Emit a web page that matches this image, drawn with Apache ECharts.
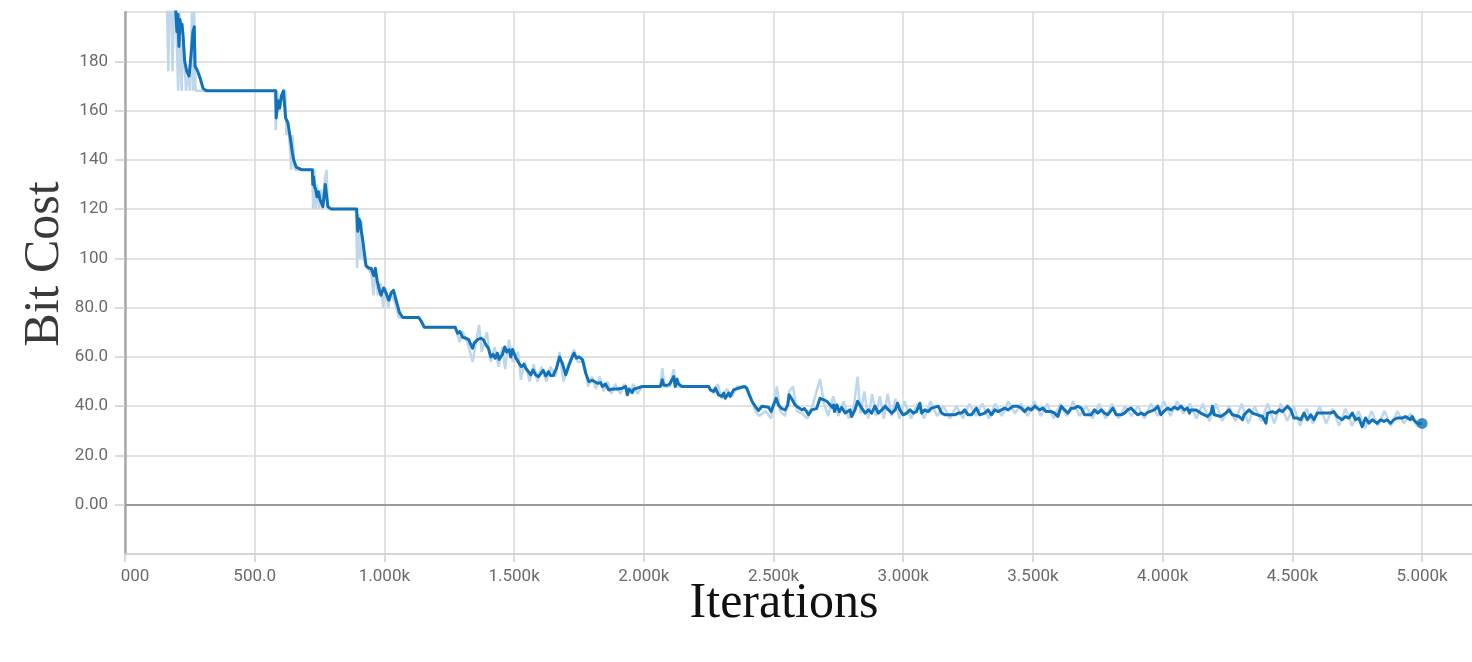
<!DOCTYPE html>
<html><head><meta charset="utf-8">
<script src="https://cdn.jsdelivr.net/npm/echarts@6/dist/echarts.min.js"></script>
<style>html,body{margin:0;padding:0;background:#fff}#c{width:1472px;height:662px}</style>
</head><body><div id="c"></div><script>
// Smoothed Bit Cost curve: [iteration, bit cost]
const smoothed = [
[185,212],[196,200],[200,192],[204,199],[208,186],[212,197],[216,193],[220,195],[224,190],[230,180],[238,176],[247,174],[255,183],[262,192],[267,194],[270,178],[280,176],[290,173],[301,169],[314,168],
[581,168],[583,157],[590,164],[596,161],[603,166],[611,168],[619,157],[628,155],[637,149],[641,146],[645,143],[650,140],[660,137],[680,136],[722,136],[724,130],[727,133],[731,129],[735,128],[740,125],[746,127],[751,124],[757,124],[763,121],[772,130],[782,121],[795,120],
[893,120],[897,111],[902,116],[906,115],[911,111],[917,107],[923,102],[929,97],[940,96],[949,96],[955,94],[959,93],[965,96],[972,91],[981,87],[987,85],[997,88],[1006,86],[1017,83],[1026,86],[1035,87],[1045,83],[1058,78],[1071,76],[1132,76],[1142,74.5],[1154,72],
[1273,72],[1282,69.6],[1291,70.3],[1301,68],[1314,67.6],[1325,67],[1333,65],[1340,63.5],[1346,65.6],[1359,67],[1372,67.6],[1381,67],[1391,65],[1401,63.5],[1410,60],[1419,61],[1427,59.5],[1435,61.5],[1442,59],[1455,61],[1464,64],[1471,62],[1481,63],[1487,60],[1494,63],[1507,59.5],[1519,57.4],[1528,56],[1538,57],[1545,55.4],[1555,54],[1564,52.7],[1573,54.7],[1583,52.7],[1594,52],[1604,53.4],[1612,54.5],[1622,52.3],[1633,54],[1640,52.5],[1651,52.5],[1663,55.4],[1675,60],[1686,57.4],[1699,52.7],[1712,56.8],[1724,60],[1731,61.5],[1740,59.5],[1750,60],[1763,59],[1776,53.4],[1788,50],[1801,50.5],[1808,51],[1821,49.3],[1834,49.5],[1840,48],[1852,49],[1865,46.6],[1872,46],[1880,47],[1900,47],[1917,47.3],[1930,48],[1936,44.6],[1943,47],[1955,45.5],[1962,47],[1974,47.3],[1994,48],
[2064,48],[2071,50.7],[2077,48.5],[2090,48.5],[2100,49],[2115,52],[2121,48],[2128,51],[2134,49],[2147,48],[2250,48],[2256,46.6],[2269,46],[2276,47.3],[2288,44.6],[2301,44],[2308,45.3],[2314,43.2],[2327,45.3],[2333,44],[2346,46.6],[2365,47.3],[2388,48],[2397,47.3],[2404,45.3],[2417,42],[2429,40],[2442,38.2],[2455,40],[2481,39.6],[2491,37.8],[2500,40.5],[2510,43.2],[2519,40.5],[2532,39],[2545,38.5],[2555,40.5],[2560,44.6],[2570,43],[2576,43.5],[2583,40.5],[2590,40],[2609,38.5],[2619,39],[2628,37.8],[2635,36.5],[2647,38.5],[2666,39],[2679,43.2],[2686,44],[2696,42.5],[2705,42],[2714,41],[2727,39.5],[2731,40.5],[2735,37.8],[2744,40.5],[2753,37.8],[2763,39.5],[2776,37.2],[2795,38.5],[2801,35.8],[2814,38.5],[2824,42],[2833,40.5],[2840,39.2],[2853,37.2],[2866,38.5],[2878,37.2],[2891,40],[2904,37.2],[2917,38.5],[2930,40],[2943,38.5],[2956,37.2],[2969,38.5],[2978,41.2],[2987,38.5],
[3000,36.5],[3013,37.2],[3026,38.5],[3039,37.2],[3051,37.8],[3064,41.2],[3071,37.2],[3083,38.5],[3096,37.8],[3109,39.2],[3135,40],[3148,37.2],[3160,36.5],[3199,36.5],[3212,37.2],[3225,37.2],[3237,38.5],[3250,36.5],[3263,36.5],[3282,39.2],[3295,36.5],[3314,37.2],[3327,38.5],[3340,36.5],[3353,38.5],[3366,37.8],[3391,39.2],[3404,38.5],[3423,40],[3442,40],[3455,39.2],[3468,37.8],[3481,39.2],[3494,38.5],[3507,40],[3526,38.5],[3538,39.2],[3551,37.8],[3571,37.8],[3583,37.2],[3596,35.8],[3609,40],[3622,38.5],[3635,37.2],[3648,39.2],[3660,39.2],[3673,40],[3686,39.2],[3699,36.5],[3724,36.5],[3737,38.5],[3750,37.2],[3763,38.5],[3776,37.2],[3788,36.5],[3808,39.2],[3821,36.5],[3840,36.5],[3853,37.2],[3865,38.5],[3878,39.2],[3891,37.8],[3904,36.5],[3917,37.2],[3930,36.5],[3942,37.5],[3955,38],[3968,38.5],[3981,40],[3993,36.5],
[4006,38],[4019,39.2],[4032,38.5],[4045,39.6],[4058,38.8],[4071,40],[4083,38.5],[4096,39.2],[4103,37.2],[4109,38.5],[4128,38.5],[4147,37.2],[4173,35.8],[4186,37.2],[4192,40],[4199,36.5],[4224,35.8],[4244,37.2],[4256,38.5],[4269,36.5],[4295,35.8],[4308,34.5],[4314,36.5],[4333,38.5],[4346,37.2],[4365,36.5],[4385,35.8],[4398,33.1],[4404,37.2],[4423,37.8],[4436,37.2],[4449,38.5],[4462,37.8],[4481,40],[4494,38.5],[4506,35.2],[4519,35.2],[4532,34.5],[4545,37.2],[4558,34.5],[4571,36.5],[4583,34.5],[4596,37.2],[4609,37.2],[4628,37.2],[4647,37.2],[4660,37.8],[4673,35.8],[4692,34.5],[4705,35.8],[4718,35.2],[4731,37.2],[4744,34.5],[4756,35.2],[4769,31.7],[4782,35.2],[4795,33.1],[4808,34.5],[4827,33.1],[4840,34.5],[4853,33.8],[4865,34.5],[4878,33.1],[4891,34.5],[4904,35.2],[4923,35.2],[4936,35.8],[4955,34.5],[4962,35.8],[4968,34.5],[4981,33.1],[5000,33]
];
// Raw (unsmoothed) Bit Cost: [iteration, bit cost]
const raw = [
[160,212],[167,176],[172,210],[178,205],[183,176],[190,205],[196,200],[205,168],[210,200],[218,168],[225,190],[235,168],[245,175],[250,168],[258,200],[262,168],[267,200],[272,168],[290,168],
[578,168],[581,152],[586,168],[596,160],[610,168],[618,168],[622,150],[628,155],[636,145],[641,136],[645,150],[655,136],[680,136],[722,136],[725,120],[730,136],[735,120],[740,130],[748,120],[755,128],[762,120],[768,130],[777,136],[782,120],[795,120],
[890,120],[895,96],[900,118],[906,100],[912,115],[918,100],[925,100],[935,96],[950,94],[958,85],[965,96],[975,85],[985,90],[995,80],[1005,88],[1015,80],[1025,86],[1040,82],[1055,76],[1070,76],[1132,76],[1154,72],[1273,72],
[1290,66],[1300,70.5],[1320,66],[1340,58],[1365,73],[1375,62],[1395,70],[1410,58],[1425,64],[1440,56],[1455,64],[1465,55],[1480,67],[1495,58],[1515,62],[1526,50.7],[1540,58],[1560,50],[1575,57],[1590,50],[1605,56],[1625,50],[1640,56],[1660,52],[1675,62],[1690,50],[1710,57],[1731,63],[1745,58],[1770,58],[1785,48],[1800,52],[1815,47],[1830,52],[1845,46],[1860,50],[1875,45],[1890,49],[1910,45],[1925,49],[1940,44.5],[1960,49],[1975,45],[1994,48],
[2064,48],[2071,55.4],[2080,48],[2100,48],[2115,55],[2125,48],[2150,48],[2250,48],[2270,45],[2285,49],[2300,43],[2320,47],[2340,44],[2360,48],[2390,48],[2410,44],[2430,38],[2445,36],[2470,38],[2490,35],[2513,48],[2525,38],[2545,36],[2560,46],[2575,48],[2590,38],[2610,37],[2630,35],[2650,40],[2679,51],[2695,41],[2710,36],[2730,44],[2750,36],[2770,42],[2790,35],[2810,40],[2824,52],[2835,37],[2850,46],[2865,35],[2880,45],[2895,36],[2910,44],[2925,35],[2940,45],[2955,36],[2970,43],[2985,35],
[3005,42],[3030,35],[3055,41],[3080,35],[3105,42],[3130,36],[3155,40],[3180,35],[3205,40],[3230,35],[3255,41],[3280,36],[3305,41],[3330,35],[3355,41],[3380,36],[3405,42],[3430,37],[3455,41],[3480,36],[3505,42],[3530,36],[3555,41],[3580,35],[3605,41],[3630,36],[3655,42],[3680,36],[3705,40],[3730,35],[3755,41],[3780,35],[3805,41],[3830,35],[3855,40],[3880,36],[3905,40],[3930,35],[3955,41],[3980,36],
[4005,42],[4030,36],[4055,42],[4080,37],[4105,41],[4130,35],[4155,41],[4180,34],[4205,41],[4230,34],[4255,40],[4280,34],[4305,41],[4330,33],[4355,40],[4380,34],[4405,41],[4430,33],[4455,41],[4480,34],[4505,40],[4530,32],[4555,39],[4580,33],[4605,40],[4630,33],[4655,39],[4680,32],[4705,39],[4730,32],[4755,38],[4780,31],[4805,38],[4830,32],[4855,38],[4880,32],[4905,38],[4930,33],[4955,37],[4980,32],[5000,33]
];
const xTitle = 'Iterations';
const yTitle = 'Bit Cost';

const chart = echarts.init(document.getElementById('c'), null, {renderer:'canvas'});
const labelFont = {color:'#6b6b6b', fontSize:17, fontFamily:'Roboto'};
chart.setOption({
  animation:false,
  backgroundColor:'#fff',
  grid:{left:125, top:12, width:1350, height:542, containLabel:false, outerBoundsMode:'none'},
  xAxis:{
    type:'value', min:0, max:5204, interval:500,
    axisLine:{show:true, onZero:false, lineStyle:{color:'#cfcfcf', width:1.5}},
    axisTick:{show:true, length:8, lineStyle:{color:'#cfcfcf', width:1.5}},
    axisLabel:Object.assign({margin:14, showMaxLabel:false,
      formatter:v => v===0 ? '{c|000}' : (v<1000 ? v.toFixed(1) : (v/1000).toFixed(3)+'k'),
      rich:{c:{color:'#6b6b6b', fontSize:17, fontFamily:'Roboto', padding:[0,0,0,20]}}}, labelFont),
    splitLine:{show:true, lineStyle:{color:'#d9d9d9', width:1.5}}
  },
  yAxis:{
    type:'value', min:-20, max:200, interval:20,
    axisLine:{show:true, lineStyle:{color:'#a8a8a8', width:2.5}},
    axisTick:{show:true, length:10, lineStyle:{color:'#cfcfcf', width:1.5}},
    axisLabel:Object.assign({margin:17, showMinLabel:false, showMaxLabel:false,
      formatter:v => v===0 ? '0.00' : (v<100 ? v.toFixed(1) : String(v))}, labelFont),
    splitLine:{show:true, lineStyle:{color:'#d9d9d9', width:1.5}}
  },
  graphic:[
    {type:'text', x:45, y:264, rotation:Math.PI/2, style:{text:yTitle, font:'50px "Liberation Serif"', fill:'#3a3a3a', textAlign:'center', textVerticalAlign:'middle'}},
    {type:'text', x:784, y:604, style:{text:xTitle, font:'50px "Liberation Serif"', fill:'#111', textAlign:'center', textVerticalAlign:'middle'}}
  ],
  series:[
    {type:'line', name:'raw', data:raw, showSymbol:false, symbol:'none', silent:true,
     lineStyle:{color:'#bed7ed', width:2.5}, z:2,
     markLine:{silent:true, symbol:'none', label:{show:false}, data:[{yAxis:0}], lineStyle:{color:'#9a9a9a', width:2, type:'solid'}}},
    {type:'line', name:'smoothed', data:smoothed, showSymbol:false, symbol:'none', silent:true,
     lineStyle:{color:'#1272b9', width:3, join:'round'}, z:3},
    {type:'scatter', data:[smoothed[smoothed.length-1]], symbolSize:11, itemStyle:{color:'#1272b9'}, z:4, silent:true}
  ]
});
</script></body></html>
